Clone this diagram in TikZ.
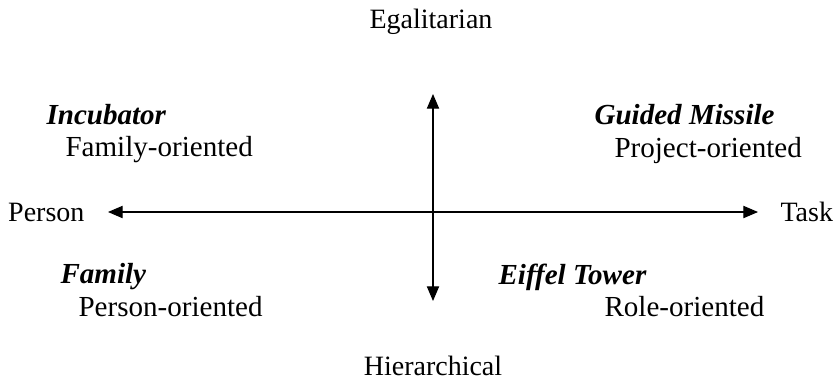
\documentclass[tikz,border=0pt]{standalone}
\usepackage{fontspec}
\setmainfont{Liberation Serif}
\usetikzlibrary{arrows.meta}
\tikzset{every node/.append style={font=\fontsize{10.9}{13}\selectfont, inner sep=0pt}}

\begin{document}
\begin{tikzpicture}[x=0.375pt, y=-0.375pt, >={Triangle[length=5.5pt, width=4.6pt]},
    quad/.style={anchor=west},
    culture/.style={anchor=west, font=\fontsize{10.9}{13}\selectfont\bfseries\itshape},
    axislabel/.style={font=\fontsize{10.5}{13}\selectfont}]
    \useasboundingbox (0,0) rectangle (833,385);
    % axis labels
    \node[axislabel] (egal) at (431,22) {Egalitarian};
    \node[axislabel] (hier) at (433,366) {Hierarchical};
    \node[axislabel, anchor=east] (person) at (85,212) {Person};
    \node[axislabel, anchor=west] (task) at (780,212) {Task};
    % axes
    \coordinate (left) at (108,212);
    \coordinate (right) at (758,212);
    \coordinate (top) at (433,94);
    \coordinate (bottom) at (433,301);
    \draw[<->, thin] (left) -- (right);
    \draw[<->, thin] (top) -- (bottom);
    % quadrants
    \node[culture] (incub) at (46,115) {Incubator};
    \node[quad] (famor) at (65,150) {Family-oriented};
    \node[culture] (guided) at (594,115) {Guided Missile};
    \node[quad] (projor) at (614,150) {Project-oriented};
    \node[culture] (family) at (60,277) {Family};
    \node[quad] (persor) at (78,307) {Person-oriented};
    \node[culture] (eiffel) at (498,277) {Eiffel Tower};
    \node[quad] (roleor) at (604,307) {Role-oriented};
\end{tikzpicture}
\end{document}
